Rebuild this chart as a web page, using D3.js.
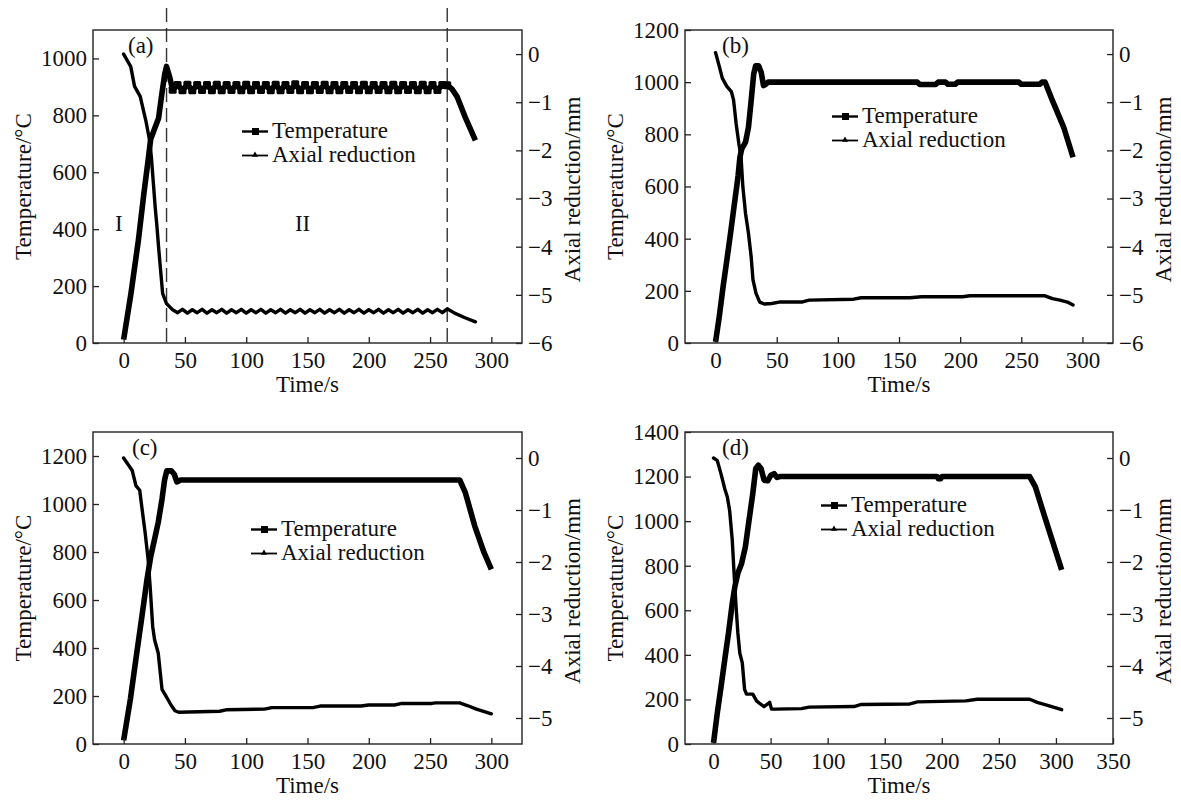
<!DOCTYPE html>
<html><head><meta charset="utf-8">
<script src="https://cdn.jsdelivr.net/npm/d3@7"></script>
<style>
body{margin:0;background:#fff;}
svg{display:block;}
</style></head><body>
<svg id="c" width="1181" height="805"></svg>
<script>
// ---------- text ----------
const panelLabels = ["(a)", "(b)", "(c)", "(d)"];
const legendLabels = ["Temperature", "Axial reduction"];
const xTitle = "Time/s";
const yTitle = "Temperature/°C";
const y2Title = "Axial reduction/mm";
const stageLabels = ["I", "II"];
const stageLabelTimes = [-4, 146];     // where the stage labels sit (a)
const stageDividers = [35, 264];       // dashed dividers in (a)

// ---------- ticks ----------
const xTicksABC = [0, 50, 100, 150, 200, 250, 300];
const xTicksD = [0, 50, 100, 150, 200, 250, 300, 350];
const yTicksA = [0, 200, 400, 600, 800, 1000];
const yTicksBC = [0, 200, 400, 600, 800, 1000, 1200];
const yTicksD = [0, 200, 400, 600, 800, 1000, 1200, 1400];
const y2TicksAB = [0, -1, -2, -3, -4, -5, -6];
const y2TicksCD = [0, -1, -2, -3, -4, -5];

// ---------- (a) ----------
const tempA_t = [0,6,12,16.5,20.5,22,25,28.5,31,33.5,35,37.5,
 40,44,48,52,56,60,64,68,72,76,80,84,88,92,96,100,104,108,112,116,120,124,128,132,136,140,144,148,152,156,160,164,168,172,176,180,184,188,192,196,200,204,208,212,216,220,224,228,232,236,240,244,248,252,256,260,
 264,268,272,279,287];
const tempA_v = [12,175,360,525,660,715,750,790,870,945,972,935,
 890,907,888,908,888,907,889,907,888,908,
 888,907,889,907,888,908,888,907,889,907,
 888,908,888,907,889,909,888,907,888,907,
 889,908,888,907,888,907,889,907,888,908,
 888,907,889,907,888,908,888,907,889,907,
 888,908,888,907,889,907,
 906,892,866,790,712];
const redA_t = [0,5.8,8.9,13.5,18,21.1,22.6,25.7,27.2,28.7,31.8,34.9,38,
 40,44,48,52,56,60,64,68,72,76,80,84,88,92,96,100,104,108,112,116,120,124,128,132,136,140,144,148,152,156,160,164,168,172,176,180,184,188,192,196,200,204,208,212,216,220,224,228,232,236,240,244,248,252,256,260,
 264,270,278,287];
const redA_v = [0,-0.26,-0.67,-0.88,-1.37,-1.78,-2.13,-3.17,-3.59,-4.07,-4.97,-5.18,-5.26,
 -5.31,-5.37,-5.30,-5.38,-5.31,-5.37,-5.30,-5.38,-5.31,-5.37,
 -5.30,-5.38,-5.31,-5.37,-5.30,-5.38,-5.31,-5.37,-5.30,-5.38,
 -5.31,-5.37,-5.30,-5.38,-5.31,-5.37,-5.30,-5.38,-5.31,-5.37,
 -5.30,-5.38,-5.31,-5.37,-5.30,-5.38,-5.31,-5.37,-5.30,-5.38,
 -5.31,-5.37,-5.30,-5.38,-5.31,-5.37,-5.30,-5.38,-5.31,-5.37,
 -5.30,-5.38,-5.31,-5.37,-5.30,-5.37,
 -5.29,-5.38,-5.47,-5.56];

// ---------- (b) ----------
const tempB_t = [0,3,6.1,9.2,12.2,15.3,18.4,19.9,21.4,24.5,26.9,29.1,31.2,32.8,35.2,37.3,39.2,41.3,43,100,165,167,180,182,188,190,196,198,248,250,265,267,269.5,275.5,284.7,292.3];
const tempB_v = [4,100,214,317,419,530,640,712,744,770,827,929,1032,1063,1063,1038,987,993,1000,1000,1000,991,991,1000,1000,992,992,1000,1000,992,992,1000,1000,929,827,712];
const redB_t = [0,3.1,5.5,9.2,12.9,14.7,16.8,19,20.8,22.3,24.5,26.9,29.1,30.6,33.1,36.1,39.8,45.9,52,70.4,76.5,113,119,159,168.4,202,208,269.4,275.5,281.6,287.7,292.3];
const redB_v = [0.03,-0.26,-0.50,-0.67,-0.78,-0.95,-1.44,-1.85,-2.13,-2.75,-3.31,-3.72,-4.21,-4.69,-4.97,-5.15,-5.19,-5.18,-5.15,-5.15,-5.11,-5.09,-5.06,-5.06,-5.04,-5.04,-5.02,-5.02,-5.08,-5.11,-5.15,-5.21];

// ---------- (c) ----------
const tempC_t = [0,5.5,10,14.6,19.1,22.2,25.2,28.2,31.3,33.4,35.2,38.9,41.3,43.4,46.5,274.2,278.8,286.4,294,300];
const tempC_v = [15,187,354,520,687,784,853,923,1020,1100,1138,1138,1124,1092,1100,1100,1047,909,798,728];
const redC_t = [0,7,10,13.1,15.2,17.6,20,21.6,23.7,25.2,28.2,31.3,34.3,38.9,41.9,44.9,78.3,84.4,114.8,120.9,154.3,160.3,193.7,199.8,221,227,251.4,254.5,274.2,280.3,287.9,300];
const redC_v = [0,-0.24,-0.53,-0.62,-1.01,-1.45,-1.96,-2.47,-3.24,-3.49,-3.75,-4.45,-4.57,-4.76,-4.86,-4.89,-4.87,-4.84,-4.83,-4.80,-4.80,-4.77,-4.77,-4.75,-4.75,-4.72,-4.72,-4.71,-4.71,-4.76,-4.83,-4.92];

// ---------- (d) ----------
const tempD_t = [0,3.3,6.6,9.8,13.1,16.4,18.7,21.3,24.6,27.9,31.1,34.4,37,39.3,41.6,44.3,47.5,50.2,53.1,55.7,58,196,197,199,200,277,282,290.2,296.7,305];
const tempD_v = [5,139,258,378,497,631,706,766,810,885,1004,1124,1236,1251,1236,1184,1181,1206,1213,1196,1200,1200,1190,1190,1200,1200,1154,1019,915,781];
const redD_t = [0,3.3,6.6,9.8,12.1,14.1,16.4,18,19.7,21.3,23,25.2,27.2,28.9,34.4,37.7,41,44.3,47.5,49.2,50.8,54.1,77,83.6,123,129.5,172,178.7,221,231,277,283.6,293.4,305];
const redD_v = [0,-0.05,-0.31,-0.59,-0.75,-1.01,-1.58,-2.22,-2.85,-3.36,-3.75,-3.94,-4.45,-4.54,-4.54,-4.67,-4.73,-4.78,-4.73,-4.70,-4.83,-4.83,-4.82,-4.79,-4.78,-4.74,-4.73,-4.69,-4.67,-4.64,-4.64,-4.70,-4.76,-4.84];

// ---------- layout ----------
const FONT = "'Liberation Serif','Times New Roman',Times,serif";
const FS = 23;
const INK = "#111";

const zip = (t, v) => t.slice(0, Math.min(t.length, v.length)).map((d, i) => ({t: d, v: v[i]}));

const panels = [
  {left:93, top:30, right:522, bottom:343, xDom:[-25,325], xTicks:xTicksABC, yDom:[0,1100], yTicks:yTicksA,
   y2Dom:[-6,0.5], y2Ticks:y2TicksAB, temp:zip(tempA_t,tempA_v), red:zip(redA_t,redA_v), label:panelLabels[0],
   labDx:35, legDx:149, legDy:108, stages:true, markerSpan:[40, 264]},
  {left:685, top:30, right:1113, bottom:343, xDom:[-25,325], xTicks:xTicksABC, yDom:[0,1200], yTicks:yTicksBC,
   y2Dom:[-6,0.5], y2Ticks:y2TicksAB, temp:zip(tempB_t,tempB_v), red:zip(redB_t,redB_v), label:panelLabels[1],
   labDx:37, legDx:147, legDy:93},
  {left:93, top:432, right:522, bottom:744, xDom:[-25,325], xTicks:xTicksABC, yDom:[0,1300], yTicks:yTicksBC,
   y2Dom:[-5.5,0.5], y2Ticks:y2TicksCD, temp:zip(tempC_t,tempC_v), red:zip(redC_t,redC_v), label:panelLabels[2],
   labDx:39, legDx:158, legDy:104},
  {left:685, top:432, right:1113, bottom:744, xDom:[-25,350], xTicks:xTicksD, yDom:[0,1400], yTicks:yTicksD,
   y2Dom:[-5.5,0.5], y2Ticks:y2TicksCD, temp:zip(tempD_t,tempD_v), red:zip(redD_t,redD_v), label:panelLabels[3],
   labDx:37, legDx:136, legDy:80},
];

const svg = d3.select("#c");
svg.append("rect").attr("width",1181).attr("height",805).attr("fill","#fff");

function styleAxis(g){
  g.attr("font-family", FONT).attr("font-size", FS);
  g.select(".domain").remove();
  g.selectAll(".tick line").attr("stroke", "#222").attr("stroke-width", 1.3);
  g.selectAll(".tick text").attr("fill", INK);
}

panels.forEach(p => {
  const x = d3.scaleLinear().domain(p.xDom).range([p.left, p.right]);
  const y = d3.scaleLinear().domain(p.yDom).range([p.bottom, p.top]);
  const y2 = d3.scaleLinear().domain(p.y2Dom).range([p.bottom, p.top]);
  const g = svg.append("g");

  // stage dividers (a)
  if (p.stages) {
    stageDividers.forEach(s => {
      g.append("line").attr("x1", x(s)).attr("x2", x(s)).attr("y1", 8).attr("y2", p.bottom)
        .attr("stroke", "#333").attr("stroke-width", 1.4).attr("stroke-dasharray", "14,6");
    });
    stageLabels.forEach((s, i) => {
      g.append("text").attr("x", x(stageLabelTimes[i])).attr("y", y(395))
        .attr("text-anchor", "middle").attr("font-family", FONT).attr("font-size", FS)
        .attr("fill", INK).text(s);
    });
  }

  // data lines
  const lineT = d3.line().x(d => x(d.t)).y(d => y(d.v));
  const lineR = d3.line().x(d => x(d.t)).y(d => y2(d.v));
  g.append("path").attr("d", lineR(p.red)).attr("fill", "none").attr("stroke", "#000")
    .attr("stroke-width", 3.4).attr("stroke-linejoin", "round").attr("stroke-linecap", "round");
  g.append("path").attr("d", lineT(p.temp)).attr("fill", "none").attr("stroke", "#000")
    .attr("stroke-width", 5.6).attr("stroke-linejoin", "round").attr("stroke-linecap", "butt");
  if (p.markerSpan) {
    const ms = p.temp.filter(d => d.t >= p.markerSpan[0] && d.t <= p.markerSpan[1]);
    g.selectAll(null).data(ms).join("rect")
      .attr("x", d => x(d.t) - 4).attr("y", d => y(d.v) - 4).attr("width", 8).attr("height", 8)
      .attr("rx", 1.5).attr("fill", "#000");
  }

  // frame
  g.append("rect").attr("x", p.left).attr("y", p.top).attr("width", p.right - p.left)
    .attr("height", p.bottom - p.top).attr("fill", "none").attr("stroke", "#222").attr("stroke-width", 1.4);

  // axes (inward ticks)
  g.append("g").attr("transform", `translate(0,${p.bottom})`)
    .call(d3.axisBottom(x).tickValues(p.xTicks).tickSize(-6).tickPadding(9).tickFormat(d3.format("d")))
    .call(styleAxis);
  g.append("g").attr("transform", `translate(${p.left},0)`)
    .call(d3.axisLeft(y).tickValues(p.yTicks).tickSize(-6).tickPadding(6).tickFormat(d3.format("d")))
    .call(styleAxis);
  g.append("g").attr("transform", `translate(${p.right},0)`)
    .call(d3.axisRight(y2).tickValues(p.y2Ticks).tickSize(-6).tickPadding(6).tickFormat(d3.format("d")))
    .call(styleAxis);

  // titles
  g.append("text").attr("x", (p.left + p.right) / 2).attr("y", p.bottom + 49)
    .attr("text-anchor", "middle").attr("font-family", FONT).attr("font-size", FS).attr("fill", INK).text(xTitle);
  g.append("text").attr("transform", `translate(${p.left - 62},${(p.top + p.bottom) / 2}) rotate(-90)`)
    .attr("text-anchor", "middle").attr("font-family", FONT).attr("font-size", FS).attr("fill", INK).text(yTitle);
  g.append("text").attr("transform", `translate(${p.right + 58},${(p.top + p.bottom) / 2 + 3}) rotate(-90)`)
    .attr("text-anchor", "middle").attr("font-family", FONT).attr("font-size", FS).attr("fill", INK).text(y2Title);

  // panel label
  g.append("text").attr("x", p.left + p.labDx).attr("y", p.top + 23)
    .attr("font-family", FONT).attr("font-size", FS).attr("fill", INK).text(p.label);

  // legend
  legendLabels.forEach((lab, i) => {
    const lx = p.left + p.legDx, ly = p.top + p.legDy + i * 24;
    const my = ly - 6.5;
    g.append("line").attr("x1", lx).attr("x2", lx + 26).attr("y1", my).attr("y2", my)
      .attr("stroke", "#000").attr("stroke-width", i === 0 ? 2.4 : 1.8);
    if (i === 0) {
      g.append("rect").attr("x", lx + 10).attr("y", my - 3.5).attr("width", 7).attr("height", 7).attr("fill", "#000");
    } else {
      g.append("path").attr("d", d3.symbol(d3.symbolTriangle, 16)()).attr("transform", `translate(${lx + 13},${my - 0.5})`).attr("fill", "#000");
    }
    g.append("text").attr("x", lx + 30).attr("y", ly).attr("font-family", FONT).attr("font-size", FS)
      .attr("fill", INK).text(lab);
  });
});
</script>
</body></html>
